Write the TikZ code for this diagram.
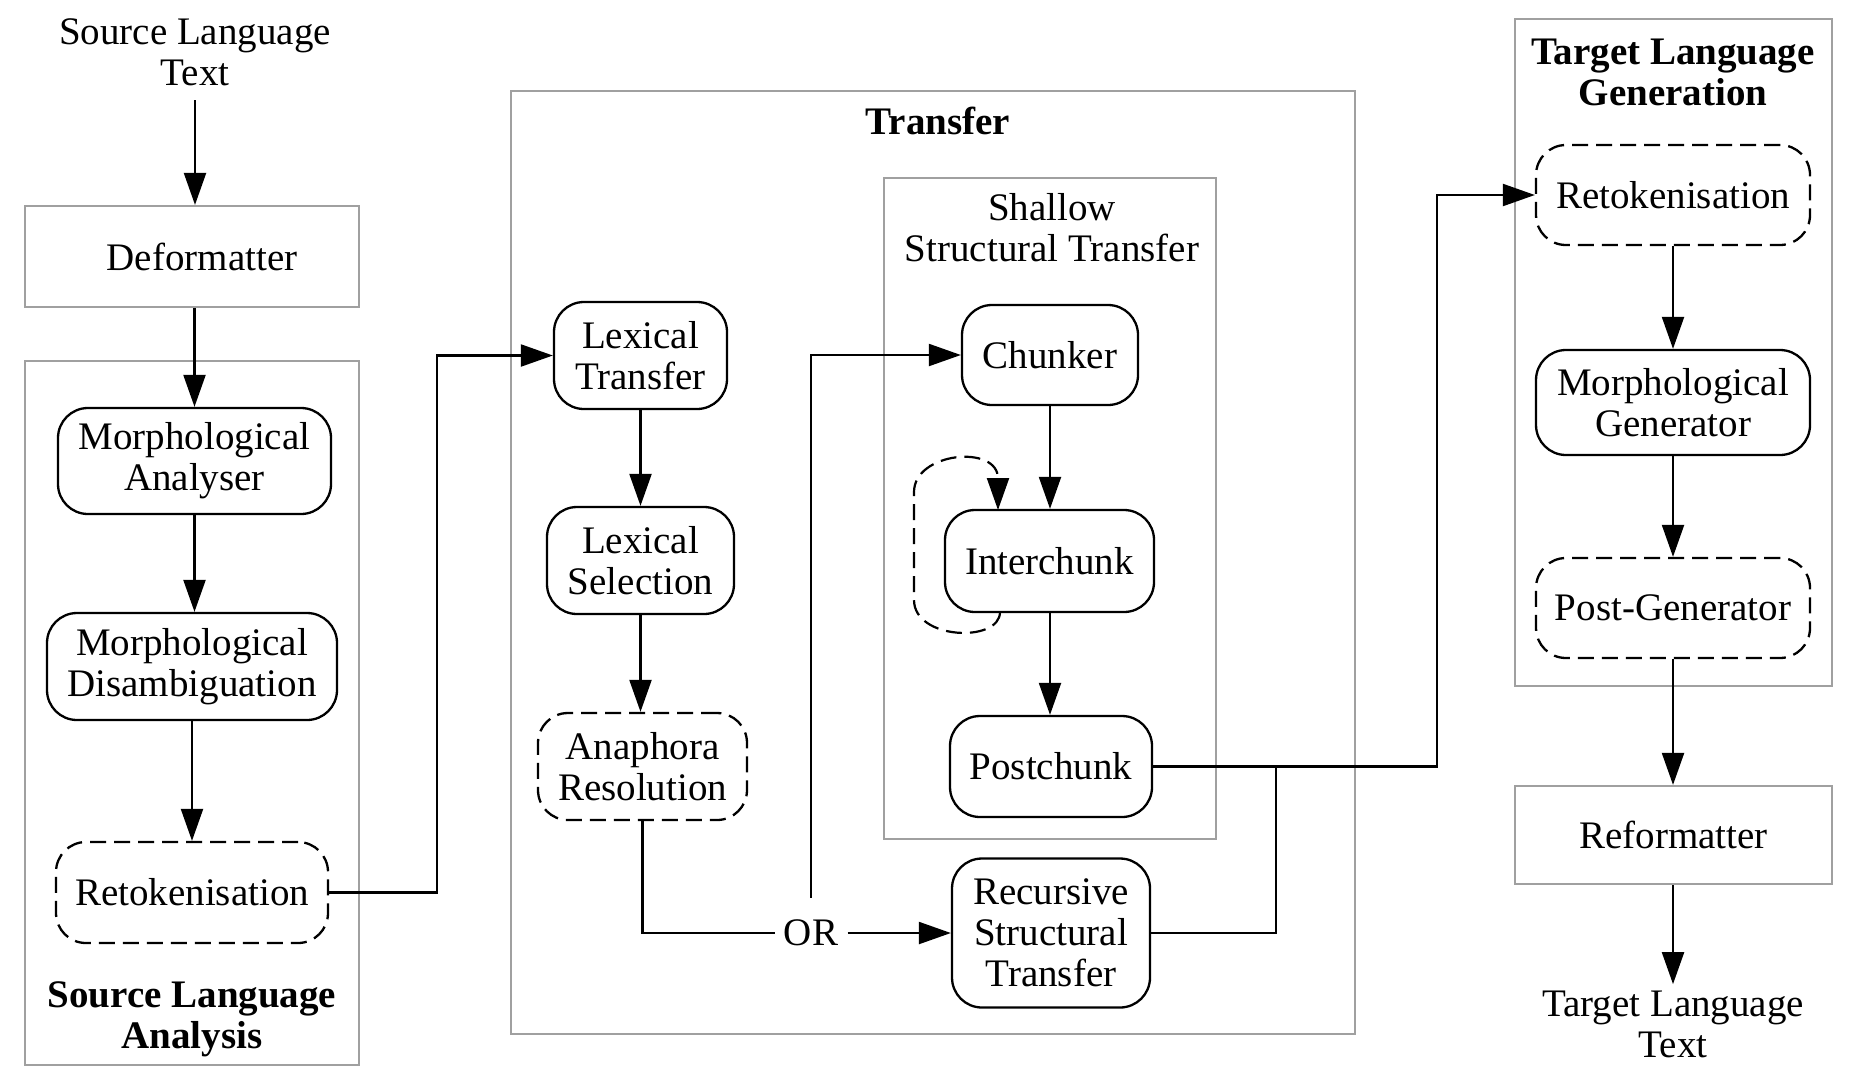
\documentclass[tikz,border=0pt]{standalone}
\usepackage{fontspec}
\setmainfont{Liberation Serif}
\usetikzlibrary{arrows.meta,calc}
\definecolor{clgray}{RGB}{160,160,160}
\begin{document}
\begin{tikzpicture}[x=0.5pt,y=-0.5pt,
  every node/.style={font=\fontsize{19.5}{20.5}\selectfont, align=center, inner sep=0pt},
  box/.style 2 args={minimum width=#1*0.5pt, minimum height=#2*0.5pt},
  proc/.style={draw=black, line width=1.15pt, rounded corners=15pt},
  opt/.style={proc, dash pattern=on 8pt off 4pt},
  plain/.style={draw=clgray, line width=1.1pt},
  cluster/.style={draw=clgray, line width=1.1pt},
  lbl/.style={font=\fontsize{19.5}{20.5}\selectfont\bfseries},
  arr/.style={line width=1.1pt, -{Triangle[length=16pt,width=11pt]}},
  ln/.style={line width=1.1pt},
  loopln/.style={line width=1.1pt, dash pattern=on 8pt off 4pt, -{Triangle[length=16pt,width=11pt]}}
]
\useasboundingbox (0,0) rectangle (1856,1082);

% clusters
\node[cluster, box={334}{704}] (sla) at (192,713) {};
\node[cluster, box={844}{943}] (tra) at (933,562.5) {};
\node[cluster, box={332}{661}] (sst) at (1050,508.5) {};
\node[cluster, box={317}{667}] (tlg) at (1673.5,352.5) {};

% cluster labels
\node[lbl] (slalbl) at (192,1019) {Source Language\\Analysis};
\node[lbl] (tralbl) at (938,121) {Transfer};
\node (sstlbl) at (1052,228) {Shallow\\Structural Transfer};
\node[lbl] (tlglbl) at (1673,72) {Target Language\\Generation};

% source side
\node[inner ysep=7pt] (slt) at (195,52) {Source Language\\Text};
\node[plain, box={334}{101}] (deform) at (192,256.5) {\hspace*{10pt}Deformatter};
\node[proc, box={273}{106}] (ma) at (194.5,461) {Morphological\\Analyser};
\node[proc, box={290}{107}] (md) at (192,666.5) {Morphological\\Disambiguation};
\node[opt, box={272}{101}] (rt1) at (192,892.5) {Retokenisation};

% transfer
\node[proc, box={173}{107}] (lt) at (640.5,355.5) {Lexical\\Transfer};
\node[proc, box={187}{107}] (ls) at (640.5,560.5) {Lexical\\Selection};
\node[opt, box={209}{107}] (ar) at (642.5,766.5) {Anaphora\\Resolution};
\node[proc, box={176}{100}] (chunker) at (1050,355) {Chunker};
\node[proc, box={209}{102}] (inter) at (1049.5,561) {Interchunk};
\node[proc, box={202}{101}] (post) at (1051,766.5) {Postchunk};
\node[proc, box={198}{149}] (rst) at (1051,933) {Recursive\\Structural\\Transfer};
\node[inner xsep=4.5pt, inner ysep=11pt] (or) at (811,933) {OR};

% target side
\node[opt, box={274}{100}] (rt2) at (1673,195) {Retokenisation};
\node[proc, box={274}{105}] (mg) at (1673,402.5) {Morphological\\Generator};
\node[opt, box={274}{100}] (pg) at (1673,608) {Post-Generator};
\node[plain, box={317}{98}] (reform) at (1673.5,835) {Reformatter};
\node[inner ysep=3pt] (tlt) at (1673,1024) {Target Language\\Text};

\coordinate (jn) at (1276,766.5);

% edges
\draw[arr] (slt.south) -- (slt.south |- deform.north);
\draw[arr] (ma.north |- deform.south) -- (ma.north);
\draw[arr] (ma.south) -- (ma.south |- md.north);
\draw[arr] (md.south) -- (md.south |- rt1.north);
\draw[arr] (rt1.east) -- ++(108,0) |- (lt.west);
\draw[arr] (lt.south) -- (lt.south |- ls.north);
\draw[arr] (ls.south) -- (ls.south |- ar.north);
\draw[ln] (ar.south) |- (or.west);
\draw[arr] (or.east) -- (rst.west);
\draw[arr] (or.north) |- (chunker.west);
\draw[arr] (chunker.south) -- (chunker.south |- inter.north);
\draw[arr] (inter.south -| chunker.south) -- (chunker.south |- post.north);
\draw[loopln] (1000,612) .. controls (1000,643) and (914,640) .. (914,600) -- (914,492) .. controls (914,452) and (998,444) .. (998,510);
\draw[arr] (post.east) -- ++(284,0) |- (rt2.west);
\draw[ln] (rst.east) -| (jn);
\draw[arr] (rt2.south) -- (rt2.south |- mg.north);
\draw[arr] (mg.south) -- (mg.south |- pg.north);
\draw[arr] (pg.south) -- (pg.south |- reform.north);
\draw[arr] (reform.south -| tlt.north) -- (tlt.north);
\end{tikzpicture}
\end{document}
